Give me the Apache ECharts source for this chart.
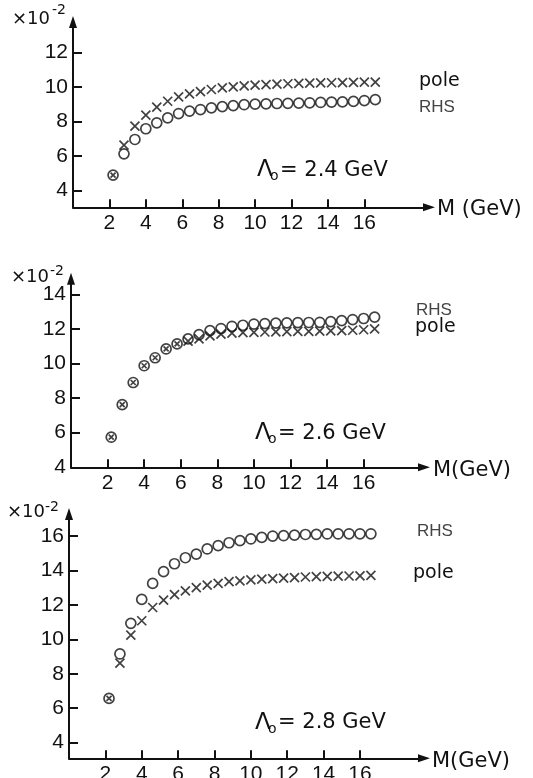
<!DOCTYPE html>
<html>
<head>
<meta charset="utf-8">
<script src="https://cdn.jsdelivr.net/npm/echarts@6/dist/echarts.min.js"></script>
<style>
html,body{margin:0;padding:0;background:#fff;}
#chart{width:533px;height:778px;}
</style>
</head>
<body>
<div id="chart"></div>
<script>
// ---- data ----
const massM = [2.2, 2.8, 3.4, 4.0, 4.6, 5.2, 5.8, 6.4, 7.0, 7.6, 8.2, 8.8, 9.4, 10.0, 10.6, 11.2, 11.8, 12.4, 13.0, 13.6, 14.2, 14.8, 15.4, 16.0, 16.6];
const xTicks = [2, 4, 6, 8, 10, 12, 14, 16];

// Lambda0 = 2.4 GeV
const pole24 = [4.9, 6.63, 7.73, 8.37, 8.83, 9.17, 9.42, 9.6, 9.73, 9.85, 9.94, 10.0, 10.06, 10.1, 10.13, 10.16, 10.18, 10.2, 10.22, 10.23, 10.24, 10.25, 10.26, 10.27, 10.28];
const rhs24  = [4.9, 6.13, 6.96, 7.58, 7.92, 8.21, 8.46, 8.6, 8.69, 8.79, 8.86, 8.92, 8.97, 9.0, 9.02, 9.04, 9.05, 9.06, 9.08, 9.1, 9.12, 9.13, 9.16, 9.21, 9.26];
const yTicks24 = [4, 6, 8, 10, 12];

// Lambda0 = 2.6 GeV
const pole26 = [5.74, 7.62, 8.9, 9.87, 10.33, 10.84, 11.13, 11.29, 11.42, 11.6, 11.7, 11.75, 11.78, 11.8, 11.82, 11.83, 11.84, 11.85, 11.86, 11.87, 11.88, 11.9, 11.92, 11.95, 12.0];
const rhs26  = [5.74, 7.62, 8.9, 9.87, 10.33, 10.84, 11.13, 11.42, 11.67, 11.9, 12.02, 12.15, 12.21, 12.28, 12.3, 12.33, 12.35, 12.36, 12.37, 12.38, 12.42, 12.48, 12.54, 12.6, 12.68];
const yTicks26 = [4, 6, 8, 10, 12, 14];

// Lambda0 = 2.8 GeV
const pole28 = [6.57, 8.62, 10.25, 11.08, 11.85, 12.28, 12.6, 12.82, 13.0, 13.15, 13.25, 13.35, 13.4, 13.45, 13.5, 13.53, 13.55, 13.58, 13.62, 13.64, 13.66, 13.67, 13.68, 13.69, 13.72];
const rhs28  = [6.57, 9.15, 10.93, 12.32, 13.25, 13.93, 14.39, 14.74, 14.95, 15.25, 15.44, 15.61, 15.73, 15.83, 15.92, 16.0, 16.02, 16.05, 16.09, 16.1, 16.12, 16.12, 16.13, 16.13, 16.13];
const yTicks28 = [4, 6, 8, 10, 12, 14, 16];

const panelLabels = ['2.4 GeV', '2.6 GeV', '2.8 GeV'];
const xAxisNames = ['M (GeV)', 'M(GeV)', 'M(GeV)'];

// ---- layout ----
const INK = '#111';
const panels = [
  {pole: pole24, rhs: rhs24, yt: yTicks24, grid: {left: 73, top: 22, width: 356, height: 185.3}, x: [0, 19.55], y: [3.04, 13.75]},
  {pole: pole26, rhs: rhs26, yt: yTicks26, grid: {left: 71, top: 278.7, width: 353, height: 188.6}, x: [0, 19.3], y: [4, 14.9]},
  {pole: pole28, rhs: rhs28, yt: yTicks28, grid: {left: 69, top: 514, width: 355, height: 244.3}, x: [0, 19.52], y: [3.09, 17.28]}
];

const grids = [], xAxes = [], yAxes = [], series = [];
const labelFont = {fontFamily: 'Liberation Sans', fontSize: 21, color: INK};
const CROSS = 'path://M0 0L10 10M10 0L0 10';

panels.forEach((p, i) => {
  grids.push(Object.assign({outerBoundsMode: 'none', containLabel: false}, p.grid));
  xAxes.push({
    type: 'value', gridIndex: i, min: p.x[0], max: p.x[1],
    axisLine: {show: true, onZero: false, symbol: ['none', 'triangle'], symbolSize: [8, 12], lineStyle: {color: INK, width: 2}},
    axisTick: {show: true, inside: true, length: 8, customValues: xTicks, lineStyle: {color: INK, width: 2}},
    axisLabel: Object.assign({show: true, margin: 5, customValues: xTicks}, labelFont),
    splitLine: {show: false}
  });
  yAxes.push({
    type: 'value', gridIndex: i, min: p.y[0], max: p.y[1],
    axisLine: {show: true, onZero: false, symbol: ['none', 'triangle'], symbolSize: [8, 12], lineStyle: {color: INK, width: 2}},
    axisTick: {show: true, inside: true, length: 9, customValues: p.yt, lineStyle: {color: INK, width: 2}},
    axisLabel: Object.assign({show: true, margin: 5, customValues: p.yt}, labelFont),
    splitLine: {show: false}
  });
  series.push({
    type: 'scatter', name: 'RHS', xAxisIndex: i, yAxisIndex: i,
    symbol: 'circle', symbolSize: 10,
    itemStyle: {color: 'rgba(0,0,0,0)', borderColor: INK, borderWidth: 1.7},
    data: massM.map((m, k) => [m, p.rhs[k]]),
    silent: true, z: 2
  });
  series.push({
    type: 'scatter', name: 'pole', xAxisIndex: i, yAxisIndex: i,
    symbol: CROSS,
    itemStyle: {color: 'rgba(0,0,0,0)', borderColor: INK, borderWidth: 1.7},
    data: massM.map((m, k) => ({value: [m, p.pole[k]], symbolSize: p.pole[k] === p.rhs[k] ? 5 : 9})),
    silent: true, z: 3
  });
});

function txt(text, x, y, size, opts) {
  opts = opts || {};
  return {
    type: 'text', x: x, y: y, silent: true,
    style: {
      text: text, fill: opts.fill || INK,
      font: (opts.weight || 'normal') + ' ' + size + 'px "' + (opts.family || 'DejaVu Sans') + '"',
      textAlign: opts.align || 'left', textVerticalAlign: 'middle'
    }
  };
}

const graphics = [];
// x10^-2 labels
[[12, 19, 52, 10], [11, 277, 50, 271.5], [7, 512.5, 45, 507]].forEach(a => {
  graphics.push(txt('×10', a[0], a[1], 18));
  graphics.push(txt('-2', a[2], a[3], 14));
});
// Lambda annotations
[[257, 170.5], [255, 433.5], [255, 723]].forEach((a, i) => {
  graphics.push(txt('Λ', a[0], a[1], 23));
  graphics.push(txt('o', a[0] + 13, a[1] + 6, 14));
  graphics.push(txt('= ' + panelLabels[i], a[0] + 23, a[1], 21));
});
// axis names
[[437, 209.5], [433, 470.5], [432, 761.5]].forEach((a, i) => {
  graphics.push(txt(xAxisNames[i], a[0], a[1], 21));
});
// series labels
graphics.push(txt('pole', 419, 81.5, 19));
graphics.push(txt('RHS', 419, 107.5, 17, {family: 'Liberation Sans', fill: '#444'}));
graphics.push(txt('RHS', 416, 310, 17, {family: 'Liberation Sans', fill: '#444'}));
graphics.push(txt('pole', 415, 327, 19));
graphics.push(txt('RHS', 417, 531.5, 17, {family: 'Liberation Sans', fill: '#444'}));
graphics.push(txt('pole', 413, 573, 19));

const chart = echarts.init(document.getElementById('chart'), null, {renderer: 'canvas'});
chart.setOption({
  animation: false,
  backgroundColor: '#fff',
  grid: grids,
  xAxis: xAxes,
  yAxis: yAxes,
  series: series,
  graphic: graphics
});
</script>
</body>
</html>
